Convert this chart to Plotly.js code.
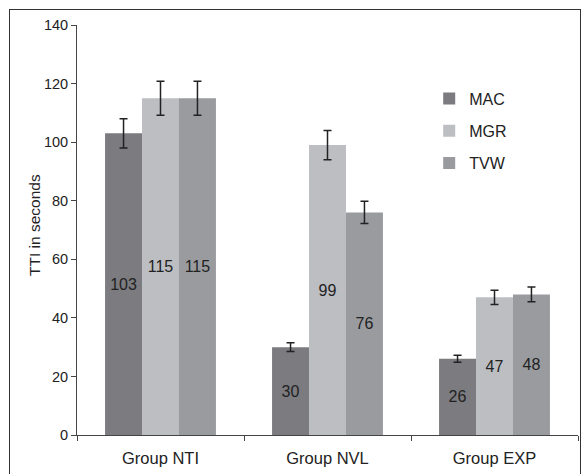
<!DOCTYPE html>
<html>
<head>
<meta charset="utf-8">
<script src="https://cdn.plot.ly/plotly-3.0.1.min.js"></script>
<style>
  html, body { margin: 0; padding: 0; background: #fff; }
  #wrap { position: relative; width: 584px; height: 474px; overflow: hidden; }
  #chart { position: absolute; left: 0; top: 0; width: 584px; height: 474px; }
  #frame { position: absolute; left: 9px; top: 9px; width: 570px; height: 480px; border: 1px solid #333; pointer-events: none; }
</style>
</head>
<body>
<div id="wrap">
  <div id="chart"></div>
  <div id="frame"></div>
</div>
<script>
const categories = ["Group NTI", "Group NVL", "Group EXP"];
const seriesNames = ["MAC", "MGR", "TVW"];
const macValues = [103, 30, 26];
const mgrValues = [115, 99, 47];
const tvwValues = [115, 76, 48];
const macErrors = [5, 1.5, 1.2];
const mgrErrors = [5.8, 5, 2.4];
const tvwErrors = [5.8, 3.8, 2.5];
const colors = ["#7b7b80", "#bdbec2", "#9a9b9f"];
const yTitle = "TTI in seconds";

const values = [macValues, mgrValues, tvwValues];
const errors = [macErrors, mgrErrors, tvwErrors];

const traces = seriesNames.map((name, i) => ({
  type: "bar",
  name: name,
  legendgroup: name,
  x: categories,
  y: values[i],
  text: values[i].map(v => String(v)),
  textposition: "inside",
  insidetextanchor: "middle",
  textangle: 0,
  insidetextfont: { family: "Liberation Sans, Arial, sans-serif", size: 16, color: "#222" },
  marker: { color: colors[i], line: { width: 0 } },
  error_y: { type: "data", array: errors[i], visible: true, color: "#222", thickness: 1.5, width: 4 },
  hoverinfo: "skip"
}));

const layout = {
  width: 584,
  height: 474,
  margin: { l: 77, r: 6, t: 25, b: 39 },
  paper_bgcolor: "#fff",
  plot_bgcolor: "#fff",
  font: { family: "Liberation Sans, Arial, sans-serif", size: 14, color: "#222" },
  barmode: "group",
  bargap: 0.336,
  bargroupgap: 0,
  showlegend: true,
  legend: {
    x: 0.703, y: 0.862, xanchor: "left", yanchor: "top",
    font: { size: 16, color: "#222" },
    bgcolor: "rgba(0,0,0,0)",
    tracegroupgap: 8.5,
    itemwidth: 30
  },
  xaxis: {
    type: "category",
    showline: true, linecolor: "#444", linewidth: 1,
    ticks: "outside", ticklen: 5, tickcolor: "#444",
    tickson: "boundaries",
    ticklabelstandoff: 8,
    showgrid: false, zeroline: false,
    tickfont: { size: 16.5, color: "#222" }
  },
  yaxis: {
    range: [0, 140],
    dtick: 20,
    showline: true, linecolor: "#444", linewidth: 1,
    ticks: "outside", ticklen: 5, tickcolor: "#444",
    showgrid: false, zeroline: false,
    tickfont: { size: 14.5, color: "#222" }
  },
  annotations: [{
    text: yTitle,
    xref: "paper", yref: "paper",
    x: -0.086, y: 0.512,
    xanchor: "center", yanchor: "middle",
    textangle: -90,
    showarrow: false,
    font: { size: 15.5, color: "#222" }
  }]
};

Plotly.newPlot("chart", traces, layout, { displayModeBar: false, staticPlot: true });
</script>
</body>
</html>
